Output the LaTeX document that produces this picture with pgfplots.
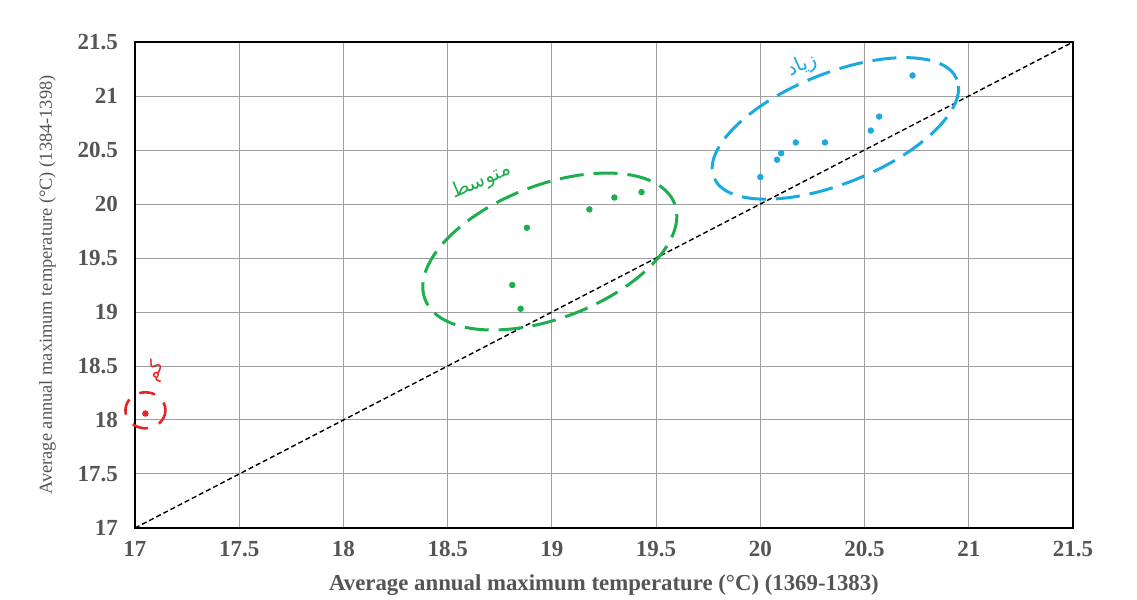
\documentclass[border=0pt]{standalone}
\usepackage{fontspec}
\setmainfont{Liberation Serif}
\newfontfamily\arabicfont[Script=Arabic]{DejaVu Sans}
\TeXXeTstate=1
\usepackage{pgfplots}
\pgfplotsset{compat=1.18}
\definecolor{cblue}{HTML}{1BA9E1}
\definecolor{cgreen}{HTML}{1DAF4E}
\definecolor{cred}{HTML}{E62325}
\definecolor{tickgray}{HTML}{555555}
\begin{document}
\begin{tikzpicture}
\useasboundingbox (0,0) rectangle (568.5pt,300pt);
\begin{axis}[
  at={(67.5pt,36pt)}, anchor=south west,
  scale only axis, width=469pt, height=243pt,
  xmin=17, xmax=21.5, ymin=17, ymax=21.5,
  xtick={17,17.5,18,18.5,19,19.5,20,20.5,21,21.5},
  ytick={17,17.5,18,18.5,19,19.5,20,20.5,21,21.5},
  grid=major, grid style={draw=gray!75, line width=0.5pt},
  axis line style={black, line width=0.9pt},
  tick style={draw=none},
  /pgf/number format/assume math mode=true,
  ticklabel style={font=\bfseries\fontsize{11.5}{13}\selectfont, text=tickgray},
  xticklabel style={yshift=-3pt},
  yticklabel style={xshift=-5pt},
  xlabel={Average annual maximum temperature (°C) (1369-1383)},
  ylabel={Average annual maximum temperature (°C) (1384-1398)},
  xlabel style={font=\bfseries\fontsize{11.4}{13}\selectfont, text=tickgray, yshift=-2pt},
  ylabel style={font=\fontsize{9.2}{11}\selectfont, text=tickgray, yshift=4pt},
  clip=false,
]
\addplot[black, dashed, line width=0.7pt, dash pattern=on 2.5pt off 1.5pt] coordinates {(17,17) (21.5,21.5)};
% low
\addplot[only marks, mark=*, mark size=1.4pt, color=cred] coordinates {(17.05,18.06)};
% medium
\addplot[only marks, mark=*, mark size=1.4pt, color=cgreen] coordinates {
(18.81,19.25) (18.85,19.03) (18.88,19.78) (19.18,19.95) (19.30,20.06) (19.43,20.11)};
% high
\addplot[only marks, mark=*, mark size=1.4pt, color=cblue] coordinates {
(20.00,20.25) (20.08,20.41) (20.10,20.47) (20.17,20.57) (20.31,20.57) (20.53,20.68) (20.57,20.81) (20.73,21.19)};
% ellipses
\draw[cgreen, line width=1.5pt, dash pattern=on 12pt off 5pt] (axis cs:18.99,19.56) circle[x radius=66.8pt, y radius=33.3pt, rotate=21];
\draw[cblue, line width=1.5pt, dash pattern=on 12pt off 5pt] (axis cs:20.36,20.70) circle[x radius=65.5pt, y radius=27.5pt, rotate=22];
\draw[cred, line width=1.3pt, dash pattern=on 8pt off 6pt, dash phase=4pt] (axis cs:17.05,18.09) circle[x radius=10pt, y radius=9pt];
\node[cgreen, rotate=24, font=\arabicfont\fontsize{10}{12}\selectfont] at (axis cs:18.66,20.21) {\beginR متوسط\endR};
\node[cblue, rotate=24, font=\arabicfont\fontsize{10}{12}\selectfont] at (axis cs:20.20,21.28) {\beginR زیاد\endR};
\node[cred, rotate=70, font=\arabicfont\fontsize{9}{11}\selectfont] at (axis cs:17.10,18.45) {\beginR کم\endR};
\end{axis}
\end{tikzpicture}
\end{document}
